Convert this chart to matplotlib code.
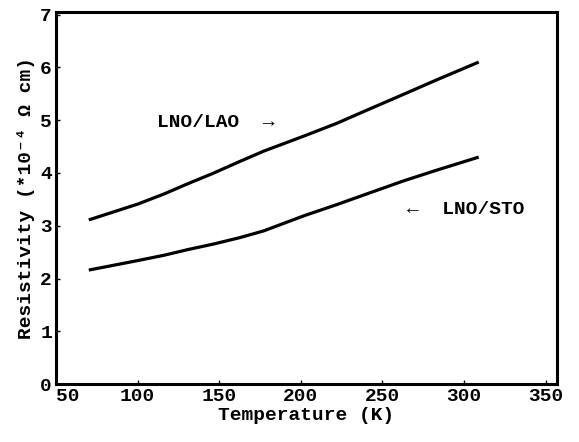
import numpy as np
import matplotlib.pyplot as plt

# Resistivity vs temperature
temp = [70, 85, 100, 116, 131, 146, 162, 177, 202, 222, 242, 263, 283, 309]
rho_lao = [3.11, 3.26, 3.41, 3.60, 3.80, 3.99, 4.21, 4.41, 4.70, 4.94, 5.21, 5.49, 5.76, 6.10]
rho_sto = [2.16, 2.25, 2.34, 2.44, 2.55, 2.65, 2.77, 2.90, 3.19, 3.40, 3.62, 3.85, 4.05, 4.30]

xticks = [50, 100, 150, 200, 250, 300, 350]
yticks = [0, 1, 2, 3, 4, 5, 6, 7]

plt.rcParams['font.family'] = ['Liberation Mono', 'DejaVu Sans Mono']
plt.rcParams['font.weight'] = 'bold'

fig = plt.figure(figsize=(5.79, 4.42), dpi=100)
ax = fig.add_axes([0.097, 0.131, 0.865, 0.842])

ax.plot(temp, rho_lao, color='black', linewidth=2.3, solid_capstyle='butt')
ax.plot(temp, rho_sto, color='black', linewidth=2.3, solid_capstyle='butt')

ax.text(112, 4.96, 'LNO/LAO  \u2192', fontsize=14, fontweight='bold', va='center', ha='left')
ax.text(265, 3.30, '\u2190  LNO/STO', fontsize=14, fontweight='bold', va='center', ha='left')

ax.set_xlim(50, 357)
ax.set_ylim(0, 7.05)
ax.set_xticks(xticks)
ax.set_yticks(yticks)
ax.tick_params(direction='in', length=3, width=1, labelsize=14)
ax.tick_params(axis='x', pad=3)
ax.tick_params(axis='y', pad=3)
for lab in ax.get_xticklabels() + ax.get_yticklabels():
    lab.set_fontweight('bold')
ax.get_xticklabels()[0].set_horizontalalignment('left')

for s in ax.spines.values():
    s.set_linewidth(2.2)

ax.set_xlabel('Temperature (K)', fontsize=14, fontweight='bold', labelpad=1)
ax.set_ylabel('Resistivity (*10\u207b\u2074 \u03a9 cm)', fontsize=14, fontweight='bold', labelpad=4)

fig.savefig('out.png', dpi=100)
